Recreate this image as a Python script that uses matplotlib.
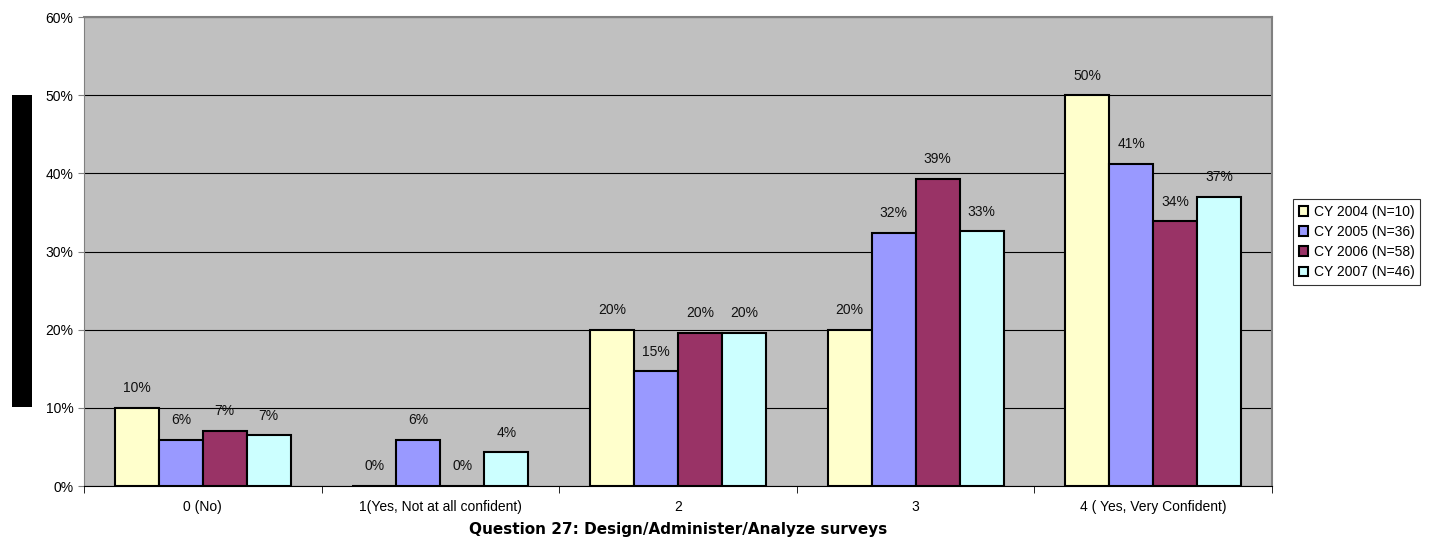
import matplotlib
matplotlib.use("Agg")
import matplotlib.pyplot as plt
from matplotlib.patches import Rectangle
import numpy as np

categories = ["0 (No)", "1(Yes, Not at all confident)", "2", "3", "4 ( Yes, Very Confident)"]
series_names = ["CY 2004 (N=10)", "CY 2005 (N=36)", "CY 2006 (N=58)", "CY 2007 (N=46)"]
cy2004 = [10.0, 0.0, 20.0, 20.0, 50.0]
cy2005 = [5.9, 5.9, 14.7, 32.4, 41.2]
cy2006 = [7.1, 0.0, 19.6, 39.3, 33.9]
cy2007 = [6.52, 4.3, 19.6, 32.6, 37.0]
colors = ["#FFFFCC", "#9999FF", "#993366", "#CCFFFF"]
xlabel = "Question 27: Design/Administer/Analyze surveys"

plt.rcParams['font.family'] = ['Liberation Sans', 'DejaVu Sans']

W, H = 1444, 546
fig = plt.figure(figsize=(W / 100, H / 100), dpi=100)
ax = fig.add_axes([84 / W, (H - 486) / H, (1272 - 84) / W, (486 - 17) / H])
ax.set_facecolor("#C0C0C0")

series = [cy2004, cy2005, cy2006, cy2007]
n = len(categories)
centers = np.arange(n) + 0.5
bw = 0.185
for k, (vals, name, col) in enumerate(zip(series, series_names, colors)):
    xs = centers + (k - 1.5) * bw
    ax.bar(xs, vals, width=bw, color=col, edgecolor="black", linewidth=1.5,
           label=name, zorder=3)
    for x, v in zip(xs, vals):
        ax.annotate(f"{v:.0f}%", (x, v), xytext=(0, 9), textcoords="offset points",
                    ha="center", va="bottom", fontsize=10, color="#111111", zorder=4)

ax.set_xlim(0, n)
ax.set_ylim(0, 60)
ax.set_yticks(np.arange(0, 61, 10))
ax.set_yticklabels([f"{v}%" for v in range(0, 61, 10)], fontsize=10)
ax.yaxis.grid(True, color="black", linewidth=0.8, zorder=1)
ax.set_axisbelow(True)

ax.set_xticks(centers)
ax.set_xticklabels(categories, fontsize=10)
ax.set_xticks(np.arange(0, n + 1), minor=True)
ax.tick_params(axis="x", which="major", length=0, pad=10)
ax.tick_params(axis="x", which="minor", length=5, direction="out", color="black")
ax.tick_params(axis="y", length=4, direction="out", color="#808080")
ax.set_xlabel(xlabel, fontsize=11, fontweight="bold", labelpad=6,
              family=["DejaVu Sans"])

for s in ["top", "right"]:
    ax.spines[s].set_color("#808080")
    ax.spines[s].set_linewidth(1.5)
ax.spines["left"].set_color("#808080")
ax.spines["bottom"].set_color("black")

leg = ax.legend(loc="upper left", bbox_to_anchor=(1293 / W, (H - 199) / H),
                bbox_transform=fig.transFigure, fontsize=10, frameon=True,
                fancybox=False, edgecolor="black", handlelength=0.7,
                handleheight=0.7, handletextpad=0.4, borderpad=0.4,
                labelspacing=0.45, borderaxespad=0)
leg.get_frame().set_linewidth(0.8)

fig.patches.append(Rectangle((12 / W, (H - 407) / H), 20 / W, 312 / H,
                             transform=fig.transFigure, facecolor="black",
                             edgecolor="none"))

fig.savefig("out.png", dpi=100)
